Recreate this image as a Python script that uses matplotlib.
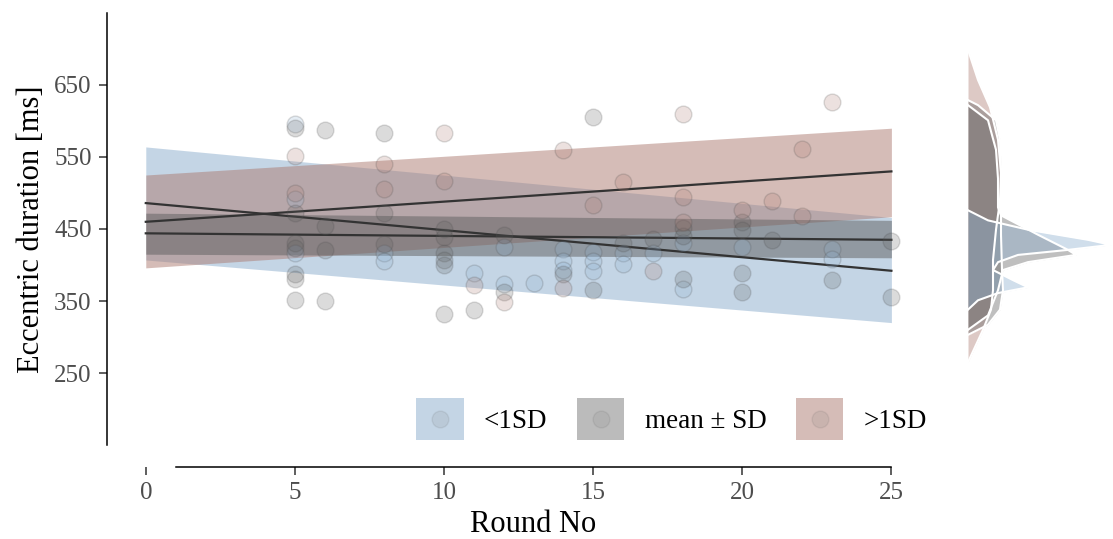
"""
Eccentric duration over rounds, by group, with marginal densities.
"""
import matplotlib
matplotlib.use('Agg')
import matplotlib.pyplot as plt
from matplotlib.patches import Patch, Rectangle
from matplotlib.lines import Line2D
from matplotlib.legend_handler import HandlerBase
from matplotlib.colors import to_rgba

plt.rcParams['font.family'] = ['Liberation Serif', 'DejaVu Serif']

# --- data -----------------------------------------------------------------
GROUPS = ['<1SD', 'mean \u00b1 SD', '>1SD']

# fitted lines and ribbons, at round 0 and round 25
round_ends = [0, 25]
blue_fit = [486, 392]
blue_lo = [407, 320]
blue_hi = [564, 466]
gray_fit = [444, 435]
gray_lo = [415, 410]
gray_hi = [472, 462]
red_fit = [460, 530]
red_lo = [396, 467]
red_hi = [525, 590]

# observations
blue_x = [5, 5, 5, 8, 8, 11, 12, 12, 13, 14, 14, 14, 15, 15, 15, 16, 16,
          17, 18, 18, 20, 23, 23]
blue_y = [596, 491, 417, 416, 405, 389, 425, 374, 375, 422, 406, 393, 418,
          405, 391, 416, 402, 417, 430, 367, 425, 422, 408]
gray_x = [5, 5, 5, 5, 5, 5, 5, 6, 6, 6, 6, 8, 8, 8, 10, 10, 10, 10, 10, 10,
          11, 12, 12, 14, 15, 15, 16, 17, 18, 18, 18, 20, 20, 20, 20, 21,
          23, 25, 25]
gray_y = [590, 472, 430, 423, 388, 380, 352, 588, 454, 421, 350, 584, 472,
          429, 450, 439, 416, 407, 400, 332, 338, 441, 363, 388, 606, 365,
          430, 436, 451, 440, 380, 460, 448, 389, 363, 435, 379, 433, 355]
red_x = [5, 5, 8, 8, 10, 10, 11, 12, 14, 14, 15, 16, 17, 18, 18, 18, 20,
         21, 22, 22, 23]
red_y = [552, 500, 540, 506, 583, 517, 372, 349, 560, 368, 483, 515, 391,
         610, 494, 460, 477, 489, 561, 468, 626]

# marginal densities (value in ms, width in density units)
red_dens_ms = [699, 657, 619, 574, 528, 490, 449, 407, 365, 338, 310, 289, 265]
red_dens_w = [0, 10, 22, 30, 33, 32, 28, 25, 25, 23, 15, 8, 0]
gray_a_ms = [629, 622, 601, 574, 532, 490, 442, 393, 365, 338, 317, 303]
gray_a_w = [0, 10, 28, 32, 33, 33, 33, 34, 35, 32, 20, 0]
gray_b_ms = [622, 601, 560, 520, 480, 469, 442, 421, 414, 404, 393, 365, 330, 310]
gray_b_w = [0, 20, 28, 30, 30, 33, 70, 100, 108, 60, 35, 30, 20, 0]
blue_dens_ms = [476, 462, 449, 435, 428, 421, 414, 404, 393, 379, 369, 361, 351, 338]
blue_dens_w = [0, 20, 60, 120, 143, 100, 50, 30, 25, 45, 60, 30, 10, 0]

x_ticks = [0, 5, 10, 15, 20, 25]
y_ticks = [250, 350, 450, 550, 650]

# --- styling --------------------------------------------------------------
BLUE = '#8badcd'
GRAY = '#5f5f5f'
RED = '#ac7a70'
LINE = '#333333'
TICK_COL = '#4d4d4d'


class KeyHandler(HandlerBase):
    """Filled square key with a faint point centred in it."""
    def create_artists(self, legend, orig_handle, xdescent, ydescent,
                       width, height, fontsize, trans):
        fc = orig_handle.get_facecolor()
        rect = Rectangle((-xdescent, -ydescent), width, height,
                         facecolor=fc, edgecolor='none', transform=trans)
        cx = -xdescent + width / 2
        cy = -ydescent + height / 2
        dot = Line2D([cx], [cy], marker='o', linestyle='none', markersize=12,
                     markerfacecolor=(0.45, 0.45, 0.45, 0.12),
                     markeredgecolor=(0.3, 0.3, 0.3, 0.1), transform=trans)
        return [rect, dot]


W, H = 1113, 539
fig = plt.figure(figsize=(W / 100, H / 100), dpi=100)
ax = fig.add_axes([107 / W, 94 / H, (960 - 107) / W, 432 / H])
axm = fig.add_axes([968 / W, 94 / H, 145 / W, 432 / H], sharey=ax)

# ribbons: blue, red, then gray on top
ax.fill_between(round_ends, blue_lo, blue_hi, color=BLUE, alpha=0.5, lw=0)
ax.fill_between(round_ends, red_lo, red_hi, color=RED, alpha=0.5, lw=0)
ax.fill_between(round_ends, gray_lo, gray_hi, color=GRAY, alpha=0.5, lw=0)

for fit in (blue_fit, gray_fit, red_fit):
    ax.plot(round_ends, fit, color=LINE, lw=1.6, zorder=3)

for xs, ys, col in ((blue_x, blue_y, BLUE), (gray_x, gray_y, GRAY),
                    (red_x, red_y, RED)):
    ax.scatter(xs, ys, s=145, facecolor=to_rgba(col, 0.22),
               edgecolor=(0.3, 0.3, 0.3, 0.2), linewidth=1.0, zorder=4)

ax.set_xlim(-1.3, 27.3)
ax.set_ylim(150, 750)
ax.set_xticks(x_ticks)
ax.set_yticks(y_ticks)
for side in ('top', 'right'):
    ax.spines[side].set_visible(False)
ax.spines['bottom'].set_position(('outward', 15.8))
ax.spines['bottom'].set_bounds(1, 25)
for side in ('left', 'bottom'):
    ax.spines[side].set_linewidth(1.1)
    ax.spines[side].set_color('black')
ax.tick_params(axis='both', length=6, width=1.1, color=LINE,
               labelcolor=TICK_COL, labelsize=18, pad=5)
ax.set_xlabel('Round No', fontsize=22, labelpad=4)
ax.set_ylabel('Eccentric duration [ms]', fontsize=22, labelpad=6)

# legend
handles = [Patch(facecolor=to_rgba(BLUE, 0.5)),
           Patch(facecolor=to_rgba(GRAY, 0.42)),
           Patch(facecolor=to_rgba(RED, 0.5))]
ax.legend(handles, GROUPS, handler_map={Patch: KeyHandler()},
          ncol=3, frameon=False, fontsize=19.5, loc='center',
          bbox_to_anchor=(0.662, 0.06), handlelength=1.74, handleheight=2.0,
          handletextpad=0.75, columnspacing=1.1)

# marginal densities
for ms, w, col in ((red_dens_ms, red_dens_w, RED),
                   (gray_a_ms, gray_a_w, GRAY),
                   (gray_b_ms, gray_b_w, GRAY),
                   (blue_dens_ms, blue_dens_w, BLUE)):
    axm.fill_betweenx(ms, 0, w, color=col, alpha=0.4, lw=0)
    axm.plot(w, ms, color='white', lw=1.5)
axm.set_xlim(0, 145)
axm.axis('off')

fig.savefig('out.png', dpi=100)
